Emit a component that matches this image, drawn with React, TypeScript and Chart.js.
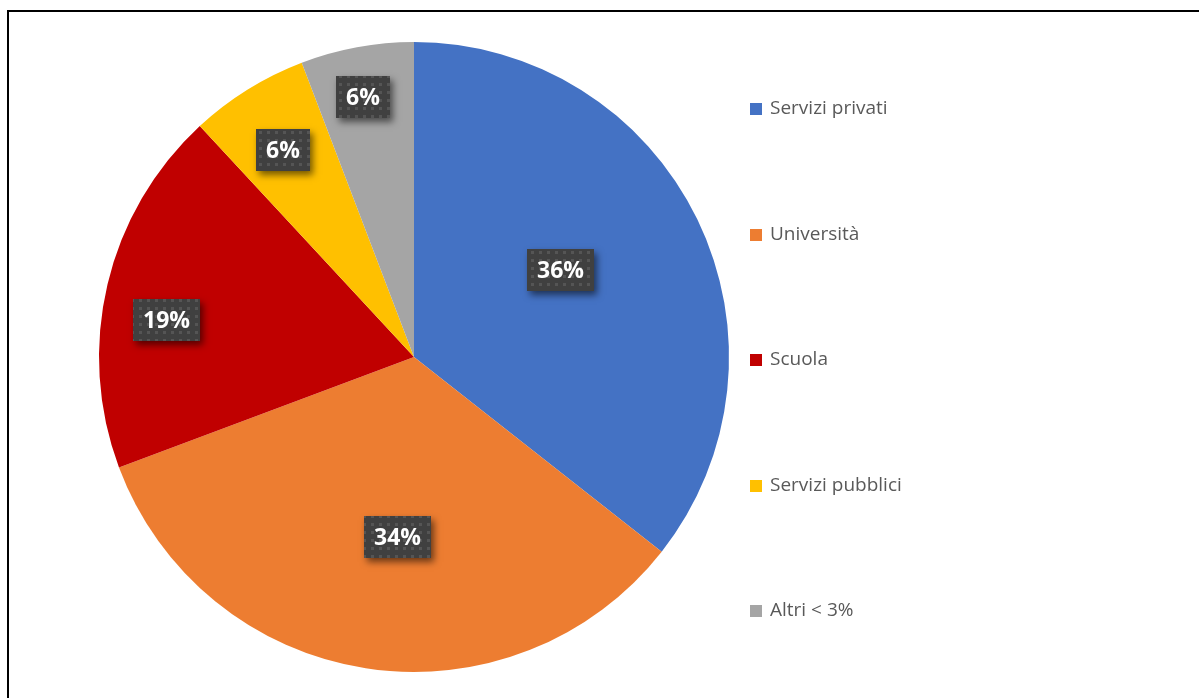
import React, { useEffect, useRef } from "react";
import { Chart, registerables } from "chart.js";

Chart.register(...registerables);

const categories = ["Servizi privati", "Università", "Scuola", "Servizi pubblici", "Altri < 3%"];
const values = [35.6, 33.7, 18.8, 6.1, 5.8];
const percentLabels = ["36%", "34%", "19%", "6%", "6%"];
const colors = ["#4472C4", "#ED7D31", "#C00000", "#FFC000", "#A5A5A5"];

// best-fit label placement (fraction of radius, angle offset in degrees)
const labelRadiusFrac = [0.54, 0.575, 0.795, 0.778, 0.842];
const labelAngleOffset = [-4.9, -3.5, -4.9, -0.5, -0.7];

function makePattern(ctx: CanvasRenderingContext2D) {
  const c = document.createElement("canvas");
  c.width = 8;
  c.height = 8;
  const p = c.getContext("2d")!;
  p.fillStyle = "#404040";
  p.fillRect(0, 0, 8, 8);
  p.fillStyle = "#555555";
  p.fillRect(3, 3, 3, 3);
  return ctx.createPattern(c, "repeat");
}

const labelPlugin = {
  id: "boxLabels",
  afterDatasetsDraw(chart: any) {
    const ctx: CanvasRenderingContext2D = chart.ctx;
    const meta = chart.getDatasetMeta(0);
    const pattern = makePattern(ctx);
    ctx.save();
    ctx.font = "bold 23px 'Open Sans'";
    ctx.textAlign = "center";
    ctx.textBaseline = "middle";
    meta.data.forEach((arc: any, i: number) => {
      const mid = (arc.startAngle + arc.endAngle) / 2 + (labelAngleOffset[i] * Math.PI) / 180;
      const r = arc.outerRadius * labelRadiusFrac[i];
      const cx = arc.x + Math.cos(mid) * r;
      const cy = arc.y + Math.sin(mid) * r;
      const text = percentLabels[i];
      const tw = ctx.measureText(text).width;
      const w = Math.round(tw + 20);
      const h = 42;
      const x = Math.round(cx - w / 2);
      const y = Math.round(cy - h / 2);
      ctx.save();
      ctx.shadowColor = "rgba(0,0,0,0.55)";
      ctx.shadowBlur = 7;
      ctx.shadowOffsetX = 3;
      ctx.shadowOffsetY = 4;
      ctx.fillStyle = "#404040";
      ctx.fillRect(x, y, w, h);
      ctx.restore();
      if (pattern) {
        ctx.fillStyle = pattern;
        ctx.fillRect(x, y, w, h);
      }
      ctx.fillStyle = "#FFFFFF";
      ctx.fillText(text, x + w / 2, y + h / 2 + 1);
    });
    ctx.restore();
  },
};

const legendPlugin = {
  id: "sideLegend",
  afterDraw(chart: any) {
    const ctx: CanvasRenderingContext2D = chart.ctx;
    ctx.save();
    ctx.font = "19px 'Open Sans'";
    ctx.textAlign = "left";
    ctx.textBaseline = "middle";
    const x0 = 750;
    const y0 = 109;
    const step = 125.5;
    categories.forEach((name, i) => {
      const yc = y0 + i * step;
      ctx.fillStyle = colors[i];
      ctx.fillRect(x0, Math.round(yc - 6), 12, 12);
      ctx.fillStyle = "#595959";
      ctx.fillText(name, x0 + 20, yc);
    });
    ctx.restore();
  },
};

export default function App() {
  const ref = useRef<HTMLCanvasElement>(null);
  useEffect(() => {
    document.body.style.margin = "0";
    const chart = new Chart(ref.current!, {
      type: "pie",
      data: {
        labels: categories,
        datasets: [
          {
            data: values,
            backgroundColor: colors,
            borderWidth: 0,
          },
        ],
      },
      options: {
        animation: false,
        responsive: false,
        devicePixelRatio: 1,
        layout: { padding: { left: 99, top: 42, right: 470, bottom: 26 } },
        plugins: {
          legend: { display: false },
          tooltip: { enabled: false },
        },
      },
      plugins: [labelPlugin, legendPlugin],
    });
    return () => chart.destroy();
  }, []);
  return (
    <div style={{ position: "fixed", left: 0, top: 0, width: 1199, height: 698, background: "#fff", overflow: "hidden" }}>
      <canvas ref={ref} width={1199} height={698} style={{ position: "absolute", left: 0, top: 0 }} />
      <div
        style={{
          position: "absolute",
          left: 7,
          top: 10,
          width: 1300,
          height: 800,
          borderTop: "2px solid #000",
          borderLeft: "2px solid #000",
          pointerEvents: "none",
        }}
      />
    </div>
  );
}
